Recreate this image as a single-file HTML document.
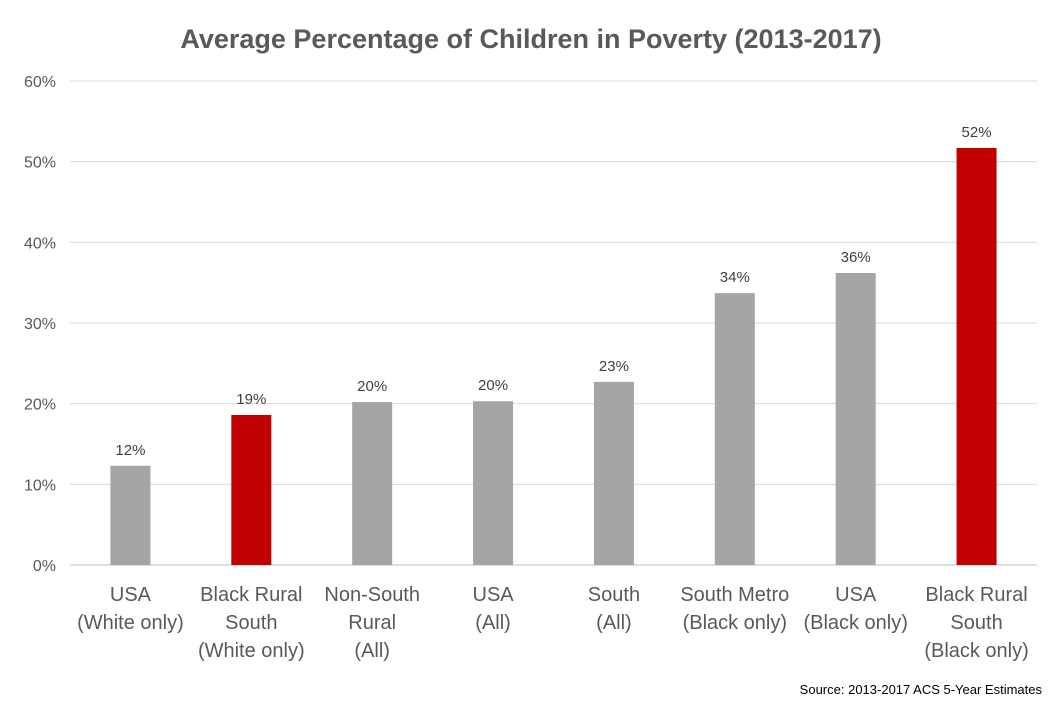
<!DOCTYPE html>
<html><head><meta charset="utf-8"><style>
body{margin:0;background:#fff;}
svg{display:block;font-family:"Liberation Sans",sans-serif;}
</style></head><body>
<svg id="chart" width="1062" height="708">
<text x="531" y="48" text-anchor="middle" font-size="27" font-weight="bold" fill="#595959">Average Percentage of Children in Poverty (2013-2017)</text>
<g id="grid"></g><g id="bars"></g><g id="xlabels"></g>
<text x="1042" y="694" text-anchor="end" font-size="13" fill="#000">Source: 2013-2017 ACS 5-Year Estimates</text>
</svg>
<script>
const categories=[["USA","(White only)"],["Black Rural","South","(White only)"],["Non-South","Rural","(All)"],["USA","(All)"],["South","(All)"],["South Metro","(Black only)"],["USA","(Black only)"],["Black Rural","South","(Black only)"]];
const values=[12.3,18.6,20.2,20.3,22.7,33.7,36.2,51.7];
const valueLabels=["12%","19%","20%","20%","23%","34%","36%","52%"];
const highlight=[false,true,false,false,false,false,false,true];
const ticks=[0,10,20,30,40,50,60];
const NS="http://www.w3.org/2000/svg";
const x0=70,x1=1037,y0=565,yTop=81;
const y=v=>y0-(v/60)*(y0-yTop);
const bw=(x1-x0)/categories.length;
const xc=i=>x0+bw*(i+0.5);
function mk(t,a,p){const e=document.createElementNS(NS,t);for(const k in a)e.setAttribute(k,a[k]);p.appendChild(e);return e;}
const g=document.getElementById('grid'),b=document.getElementById('bars'),xl=document.getElementById('xlabels');
ticks.forEach(t=>{
 const l=mk('line',{x1:x0,x2:x1,y1:y(t),y2:y(t),stroke:t===0?'#bfbfbf':'#d9d9d9','stroke-width':1},g);
 
 
 const tx=mk('text',{x:56,y:y(t)+6,'text-anchor':'end','font-size':16,fill:'#595959'},g);
 tx.textContent=t+'%';
 
 
});
values.forEach((v,i)=>{
 const r=mk('rect',{x:xc(i)-20,y:y(v),width:40,height:y0-y(v),fill:highlight[i]?'#c00000':'#a5a5a5'},b);
 
 
 const t=mk('text',{x:xc(i),y:y(v)-11,'text-anchor':'middle','font-size':15,fill:'#404040'},b);
 t.textContent=valueLabels[i];
 
 
 categories[i].forEach((s,j)=>{
  const c=mk('text',{x:xc(i),y:601+j*28,'text-anchor':'middle','font-size':20,fill:'#595959'},xl);
  c.textContent=s;
  
  
 });
});
</script>
</body></html>
